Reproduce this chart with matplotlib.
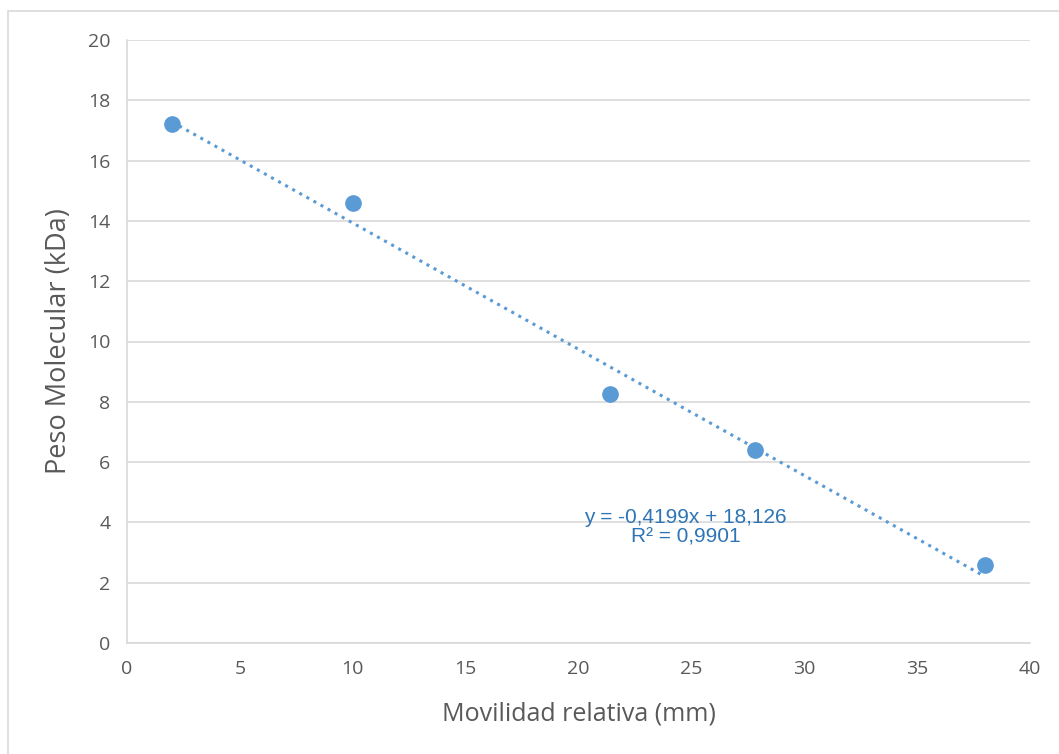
import numpy as np
import matplotlib.pyplot as plt
from matplotlib.patches import Rectangle

# Datos
movilidad = np.array([2.0, 10.0, 21.4, 27.8, 38.0])
peso = np.array([17.2, 14.6, 8.25, 6.4, 2.6])
ecuacion = "y = -0,4199x + 18,126\nR² = 0,9901"

m, b = np.polyfit(movilidad, peso, 1)
x_fit = np.linspace(movilidad.min(), movilidad.max(), 100)

plt.rcParams['font.family'] = ['Open Sans', 'DejaVu Sans']

fig = plt.figure(figsize=(10.59, 7.54), dpi=100)
fig.patches.append(Rectangle((8 / 1059, -0.1), 1.2, 1 - 11 / 754 + 0.1,
                             transform=fig.transFigure, fill=False,
                             edgecolor='#d9d9d9', linewidth=1.2))
ax = fig.add_axes([127 / 1059, 1 - 643 / 754, 903 / 1059, 603 / 754])

ax.plot(x_fit, m * x_fit + b, ':', color='#5b9bd5', linewidth=2.2)
ax.plot(movilidad, peso, 'o', color='#5b9bd5', markersize=11, zorder=3)

ax.set_xlim(0, 40)
ax.set_ylim(0, 20)
ax.set_xticks(range(0, 41, 5))
ax.set_yticks(range(0, 21, 2))
ax.grid(True, axis='y', color='#d9d9d9', linewidth=1.2)
ax.set_axisbelow(True)
for s in ['top', 'right']:
    ax.spines[s].set_visible(False)
ax.spines['left'].set_color('#d9d9d9')
ax.spines['bottom'].set_color('#d9d9d9')
ax.spines['left'].set_linewidth(1.2)
ax.spines['bottom'].set_linewidth(1.2)
ax.tick_params(length=0, labelsize=14, labelcolor='#595959', pad=12)

ax.set_xlabel("Movilidad relativa (mm)", fontsize=18, color='#595959', labelpad=17)
ax.set_ylabel("Peso Molecular (kDa)", fontsize=19.5, color='#595959', labelpad=11)

ax.text(24.75, 3.85, ecuacion, ha='center', va='center', fontsize=15,
        color='#2e75b6', family=['Liberation Sans'], linespacing=1.05)

fig.savefig("out.png", dpi=100)
